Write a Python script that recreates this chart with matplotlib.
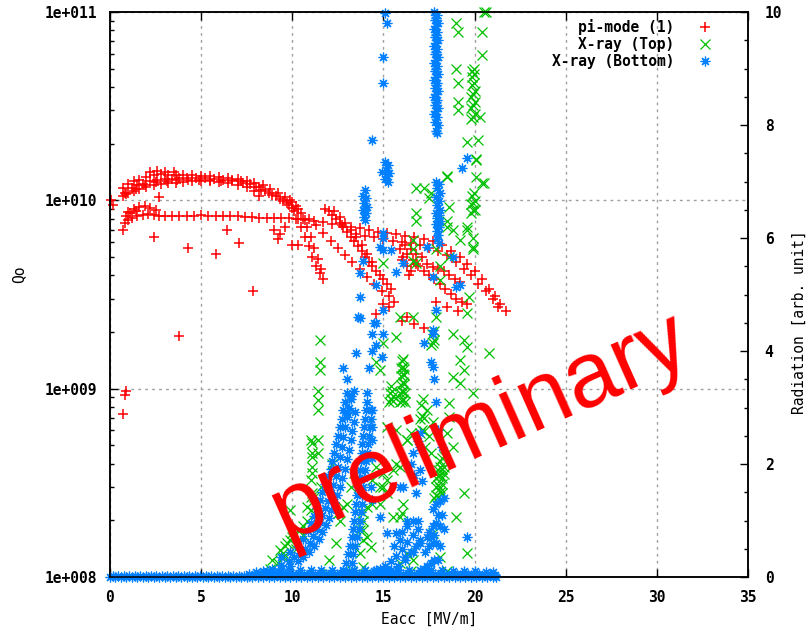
import matplotlib
matplotlib.use("Agg")
import numpy as np
import matplotlib.pyplot as plt
from matplotlib.lines import Line2D
from matplotlib.ticker import FixedLocator, FuncFormatter, MultipleLocator, NullFormatter

# ---------------- data ----------------
# pi-mode (1): Eacc [MV/m] and Qo (in units of 1e10)
red_upper_x = [0.7, 1.0, 1.3, 1.6, 2.0, 2.4, 2.8, 3.2, 3.6, 4.0, 4.5, 5.0, 5.5, 6.0, 6.5, 7.0, 7.5, 7.9, 8.2,
               0.7, 1.0, 1.3, 1.6, 2.0, 2.4, 2.8, 3.2, 3.6, 4.0, 4.5, 5.0, 5.5, 6.0, 6.5, 7.0, 7.5, 7.9, 8.2,
               0.8, 1.2, 1.5, 1.8, 2.2, 2.6, 3.0, 3.4, 3.8, 4.2, 4.7, 5.2, 5.7, 6.2, 6.7, 7.2, 7.7, 8.0,
               0.9, 1.4, 1.9, 2.5, 3.1, 3.7, 4.3, 4.9, 5.5, 6.1, 6.7, 7.3,
               2.2, 2.6, 3.0, 3.5]
red_upper_y = [1.16, 1.22, 1.26, 1.29, 1.33, 1.36, 1.38, 1.37, 1.36, 1.37, 1.36, 1.35, 1.35, 1.33, 1.32, 1.30, 1.27, 1.24, 1.17,
               1.05, 1.09, 1.12, 1.15, 1.18, 1.20, 1.22, 1.23, 1.24, 1.25, 1.26, 1.26, 1.26, 1.25, 1.24, 1.21, 1.18, 1.12, 1.06,
               1.10, 1.16, 1.20, 1.22, 1.26, 1.28, 1.30, 1.30, 1.31, 1.31, 1.31, 1.31, 1.30, 1.29, 1.28, 1.26, 1.22, 1.17,
               1.08, 1.15, 1.21, 1.25, 1.27, 1.28, 1.28, 1.29, 1.28, 1.27, 1.26, 1.24,
               1.42, 1.43, 1.42, 1.41]
red_lower_x = [0.8, 1.0, 1.2, 1.5, 1.8, 2.1, 2.4, 2.7, 3.0, 3.4, 3.8, 4.2, 4.6, 5.0, 5.4, 5.8, 6.2, 6.6, 7.0,
               7.4, 7.8, 8.2, 8.6, 9.0, 9.4, 9.8, 1.0, 1.3, 1.6, 1.9, 2.2, 2.5, 0.9, 1.1, 1.4]
red_lower_y = [0.76, 0.79, 0.81, 0.83, 0.84, 0.85, 0.84, 0.83, 0.83, 0.83, 0.83, 0.83, 0.83, 0.84, 0.83, 0.83, 0.83,
               0.83, 0.83, 0.82, 0.82, 0.81, 0.81, 0.81, 0.81, 0.81, 0.87, 0.90, 0.92, 0.93, 0.91, 0.89, 0.83, 0.86, 0.88]
red_branch_a_x = [8.3, 8.5, 8.7, 8.9, 9.1, 9.3, 9.5, 9.7, 9.8, 10.0, 10.1, 10.3, 10.5, 10.7, 10.9, 11.1, 11.3, 11.5, 11.7,
                  8.4, 8.8, 9.2, 9.6, 10.0, 10.3, 10.6, 10.8, 11.0, 11.2, 11.4, 11.6]
red_branch_a_y = [1.14, 1.12, 1.09, 1.07, 1.05, 1.02, 0.99, 0.97, 0.95, 0.91, 0.88, 0.80, 0.72, 0.64, 0.57, 0.50, 0.45, 0.41, 0.38,
                  1.20, 1.15, 1.10, 1.04, 0.98, 0.90, 0.80, 0.72, 0.64, 0.56, 0.49, 0.43]
red_branch_b_x = [9.9, 10.2, 10.5, 10.9, 11.3, 11.7, 12.1, 12.5, 12.9, 13.3, 13.7, 14.1, 14.5, 14.9, 15.3, 15.6]
red_branch_b_y = [1.00, 0.93, 0.86, 0.80, 0.74, 0.67, 0.61, 0.56, 0.51, 0.47, 0.43, 0.39, 0.36, 0.33, 0.31, 0.29]
red_branch_c_x = [11.8, 12.0, 12.2, 12.4, 12.6, 12.8, 13.0, 13.2, 13.4, 13.6, 13.8, 14.0, 14.2, 14.4, 14.6, 14.8, 15.0, 15.2, 15.4,
                  12.3, 12.6, 12.9, 13.2, 13.5, 13.8, 14.1, 14.4]
red_branch_c_y = [0.90, 0.88, 0.84, 0.80, 0.76, 0.72, 0.68, 0.64, 0.61, 0.57, 0.54, 0.50, 0.47, 0.45, 0.42, 0.40, 0.38, 0.36, 0.34,
                  0.88, 0.82, 0.76, 0.70, 0.64, 0.58, 0.52, 0.47]
red_branch_d_x = [10.2, 10.7, 11.2, 11.7, 12.2, 12.7, 13.2, 13.7, 14.2, 14.7, 15.2, 15.7, 16.2, 16.7, 17.2, 17.7, 18.2,
                  18.7, 19.2, 19.6, 20.0, 20.4, 20.8, 21.1, 21.4, 21.7,
                  13.5, 14.0, 14.5, 15.0, 15.5, 16.0, 16.5, 17.0, 17.5, 18.0, 18.5, 19.0, 19.4, 19.8, 20.2, 20.6, 21.0, 21.3]
red_branch_d_y = [0.80, 0.79, 0.78, 0.77, 0.75, 0.74, 0.72, 0.71, 0.70, 0.68, 0.67, 0.66, 0.65, 0.64, 0.62, 0.61, 0.58,
                  0.54, 0.50, 0.46, 0.42, 0.38, 0.34, 0.31, 0.28, 0.26,
                  0.66, 0.65, 0.64, 0.62, 0.61, 0.60, 0.59, 0.58, 0.56, 0.54, 0.51, 0.47, 0.43, 0.40, 0.36, 0.33, 0.30, 0.27]
red_branch_e_x = [16.3, 16.6, 16.9, 17.2, 17.5, 17.8, 18.1, 18.4, 18.7, 19.0, 19.3, 19.6,
                  15.9, 16.1, 16.3, 16.5, 16.2, 16.5, 16.8, 17.1, 17.4, 17.7, 18.0, 18.3, 18.6, 18.9, 19.2, 16.0, 16.4, 16.8]
red_branch_e_y = [0.52, 0.48, 0.45, 0.42, 0.40, 0.38, 0.36, 0.34, 0.32, 0.30, 0.29, 0.28,
                  0.55, 0.50, 0.45, 0.42, 0.58, 0.55, 0.52, 0.50, 0.46, 0.44, 0.43, 0.42, 0.40, 0.38, 0.37, 0.48, 0.40, 0.46]
red_scatter_x = [0.05, 0.15, 0.7, 2.4, 2.7, 3.8, 4.3, 5.8, 6.4, 7.1, 7.85, 9.2, 10.3, 0.85, 0.9, 0.72,
                 9.0, 9.3, 9.6, 10.0, 14.6, 15.3, 16.3, 16.7, 17.2, 17.9, 18.5, 19.1, 15.0, 16.0]
red_scatter_y = [1.00, 0.95, 0.695, 0.64, 1.04, 0.19, 0.56, 0.52, 0.70, 0.59, 0.33, 0.62, 0.58, 0.093, 0.097, 0.073,
                 0.70, 0.66, 0.72, 0.58, 0.25, 0.27, 0.24, 0.22, 0.21, 0.29, 0.27, 0.26, 0.28, 0.23]

# X-ray (Top): Eacc and radiation [arb. unit]
green_top_x = [20.5, 19.0, 19.1, 20.4, 20.4, 19.0, 19.1, 19.1, 19.1, 20.3, 19.6, 20.2, 20.1, 20.1, 20.5, 18.5,
               16.8, 17.2, 17.5, 17.6, 18.5, 20.1, 20.4, 16.8, 16.8, 18.6, 18.5, 18.5, 18.8, 19.2, 19.6, 19.9,
               19.9, 16.6, 16.6, 16.6, 17.9, 18.1, 18.1, 18.6, 19.7, 19.6, 15.0, 15.9, 16.6, 17.9, 16.8, 19.9, 19.6, 20.6]
green_top_y = [10.0, 9.8, 9.65, 9.65, 9.24, 9.0, 8.75, 8.4, 8.27, 8.15, 7.7, 7.73, 7.38, 7.08, 6.97, 7.08,
               6.88, 6.88, 6.7, 6.8, 7.1, 7.4, 6.98, 6.44, 6.3, 6.55, 6.2, 6.3, 6.14, 5.96, 6.2, 6.0,
               5.8, 5.96, 5.8, 5.6, 5.8, 5.5, 5.26, 5.66, 4.96, 4.67, 5.56, 4.6, 4.6, 4.6, 5.56, 5.84, 6.14, 10.0]
green_mid_x = [11.5, 11.5, 11.5, 11.4, 11.4, 11.4, 11.1, 11.1, 11.0, 11.0, 10.0, 9.9, 9.5, 9.2,
               10.0, 10.4, 10.8, 11.1, 11.1, 11.4, 11.4, 9.9, 9.5, 8.8, 10.6, 10.3,
               12.8, 12.6, 13.9, 14.1, 14.4, 14.8, 15.0, 15.2, 15.5, 15.9, 16.0, 16.3, 13.7, 13.9, 15.9, 16.3, 16.6,
               14.6, 14.8, 15.0, 15.7, 15.5, 15.2, 15.7, 14.6, 14.4, 13.9, 13.9, 14.3,
               18.8, 19.4, 19.6, 20.8, 19.2, 19.4, 18.8, 19.2, 19.9, 18.6, 18.6, 18.5, 18.8, 18.3, 19.4, 19.0, 19.6, 18.1, 17.7,
               11.0, 11.1, 11.1, 11.0, 11.2, 10.8, 10.3, 9.7, 9.3, 8.9, 12.5, 13.0, 13.2, 13.4, 14.1, 14.8, 15.0,
               15.2, 15.5, 15.7, 16.3, 16.5, 15.9, 16.1, 13.7, 13.9,
               12.0, 15.0, 16.5, 17.5, 18.5, 13.3, 17.3, 17.5, 17.7, 17.4, 17.6,
               9.6, 10.2, 10.6, 11.2, 11.6, 12.2, 12.4, 12.0]
green_mid_y = [4.2, 3.8, 3.66, 3.3, 3.13, 2.96, 2.37, 2.12, 1.42, 1.19, 0.78, 0.65, 0.42, 0.25,
               0.71, 0.83, 1.0, 1.49, 1.84, 2.2, 2.42, 1.19, 0.35, 0.15, 0.9, 0.6,
               1.24, 1.0, 1.0, 0.71, 1.3, 1.6, 1.84, 1.49, 1.06, 1.95, 1.13, 2.42, 0.42, 0.18, 0.25, 0.42, 0.3,
               3.8, 3.66, 4.14, 4.25, 3.2, 2.65, 2.6, 1.95, 1.72, 1.13, 0.83, 0.53,
               4.3, 4.2, 4.07, 3.96, 3.84, 3.66, 3.54, 3.43, 3.26, 3.08, 2.83, 2.55, 2.3, 1.95, 1.49, 1.06, 0.42, 0.35, 0.78,
               2.42, 2.19, 1.95, 1.72, 1.42, 1.24, 0.83, 0.6, 0.48, 0.3, 1.13, 1.3, 1.6, 1.84, 1.24, 1.3, 1.6,
               1.72, 1.9, 2.0, 2.42, 2.55, 1.06, 1.3, 0.83, 0.65,
               0.05, 0.05, 0.1, 0.08, 0.1, 0.1, 2.3, 2.5, 2.75, 2.95, 2.2,
               0.55, 0.5, 0.75, 0.9, 1.6, 2.0, 0.6, 0.3]
green_dense_x = [19.8, 19.9, 20.0, 19.8, 19.9, 20.0, 19.8, 19.9, 20.0, 19.85, 19.95, 19.85, 19.95, 19.85, 19.95,
                 19.8, 19.9, 20.0, 19.8, 19.9, 20.0, 19.85, 19.95,
                 15.9, 16.0, 16.1, 16.2, 15.9, 16.0, 16.1, 16.2, 15.95, 16.05, 16.15, 15.95, 16.05, 16.15,
                 15.95, 16.05, 16.15, 16.0, 16.1,
                 17.8, 17.9, 18.0, 18.1, 18.2, 17.9, 18.0, 18.1, 18.2, 17.9, 18.0, 18.1, 18.2, 18.3, 18.0,
                 18.1, 18.2, 18.1, 18.2, 18.3,
                 15.3, 15.4, 15.5, 15.35, 15.45, 15.4,
                 17.0, 17.1, 17.2, 17.0, 17.1, 17.2, 17.05, 17.15,
                 17.6, 17.7, 17.8, 17.65, 17.75]
green_dense_y = [8.1, 8.15, 8.2, 8.3, 8.35, 8.4, 8.5, 8.55, 8.6, 8.7, 8.75, 8.85, 8.9, 8.95, 9.0,
                 6.45, 6.5, 6.5, 6.6, 6.62, 6.65, 6.75, 6.8,
                 3.1, 3.12, 3.15, 3.1, 3.25, 3.3, 3.28, 3.25, 3.4, 3.45, 3.42, 3.55, 3.6, 3.57,
                 3.7, 3.72, 3.68, 3.82, 3.85,
                 1.4, 1.45, 1.42, 1.5, 1.48, 1.6, 1.62, 1.58, 1.65, 1.75, 1.78, 1.8, 1.76, 1.82, 1.9,
                 1.95, 1.92, 2.05, 2.1, 2.15,
                 3.1, 3.15, 3.12, 3.25, 3.3, 3.38,
                 2.55, 2.6, 2.58, 2.8, 2.85, 2.82, 3.05, 3.15,
                 4.1, 4.15, 4.2, 4.3, 4.35]

# X-ray (Bottom): Eacc and radiation [arb. unit]
blue_base_x = [0.0, 0.3, 0.6, 0.9, 1.2, 1.5, 1.8, 2.1, 2.4, 2.7, 3.0, 3.3, 3.6, 3.9, 4.2, 4.5, 4.8, 5.1, 5.4, 5.7,
               6.0, 6.3, 6.6, 6.9, 7.2, 7.5, 7.8, 8.1, 8.4, 8.7, 9.0, 9.3, 9.6, 9.9, 10.2, 10.5, 10.8, 11.1, 11.4,
               11.7, 12.0, 12.3, 12.6, 12.9, 13.2, 13.5, 13.8, 14.1, 14.4, 14.7, 15.0, 15.3, 15.6, 15.9, 16.2, 16.5,
               16.8, 17.1, 17.4, 17.7, 18.0, 18.3, 18.6, 18.9, 19.2, 19.5, 19.8, 20.1, 20.4, 20.7, 21.0, 21.2,
               0.15, 0.45, 0.75, 1.05, 1.35, 1.65, 1.95, 2.25, 2.55, 2.85, 3.15, 3.45, 3.75, 4.05, 4.35, 4.65, 4.95,
               5.25, 5.55, 5.85, 6.15, 6.45, 6.75, 7.05, 7.35, 7.65, 7.95, 8.25, 8.55, 8.85, 9.15, 9.45, 9.75, 10.05,
               10.35, 10.65, 10.95, 11.25, 11.55, 11.85, 12.15, 12.45, 12.75, 13.05, 13.35, 13.65, 13.95, 14.25,
               14.55, 14.85, 15.15, 15.45, 15.75, 16.05, 16.35, 16.65, 16.95, 17.25, 17.55, 17.85, 18.15, 18.45,
               18.75, 19.05, 19.35, 19.65, 19.95, 20.25, 20.55, 20.85, 21.1,
               7.6, 8.0, 8.6, 9.2, 9.8, 10.4, 11.0, 11.6, 12.2, 12.8, 13.4, 14.0, 14.6, 15.2, 15.8, 16.4, 17.0, 17.6,
               18.2, 18.8, 19.4, 20.0, 20.6, 21.0]
blue_base_y = [0, 0, 0, 0, 0, 0, 0, 0, 0, 0, 0, 0, 0, 0, 0, 0, 0, 0, 0, 0,
               0, 0, 0, 0, 0, 0, 0, 0, 0, 0, 0, 0, 0, 0, 0, 0, 0, 0, 0,
               0, 0, 0, 0, 0, 0, 0, 0, 0, 0, 0, 0, 0, 0, 0, 0, 0,
               0, 0, 0, 0, 0, 0, 0, 0, 0, 0, 0, 0, 0, 0, 0, 0,
               0.02, 0.02, 0.02, 0.02, 0.02, 0.02, 0.02, 0.02, 0.02, 0.02, 0.02, 0.02, 0.02, 0.02, 0.02, 0.02, 0.02,
               0.02, 0.02, 0.02, 0.02, 0.02, 0.02, 0.02, 0.02, 0.02, 0.03, 0.04, 0.04, 0.05, 0.05, 0.05, 0.05, 0.05,
               0.05, 0.05, 0.05, 0.05, 0.05, 0.05, 0.05, 0.05, 0.05, 0.05, 0.05, 0.05, 0.05, 0.05,
               0.05, 0.05, 0.05, 0.05, 0.05, 0.05, 0.05, 0.05, 0.05, 0.05, 0.05, 0.05, 0.05, 0.05,
               0.05, 0.05, 0.05, 0.05, 0.05, 0.05, 0.04, 0.04, 0.03,
               0.06, 0.08, 0.1, 0.1, 0.12, 0.12, 0.12, 0.12, 0.12, 0.12, 0.12, 0.12, 0.12, 0.12, 0.12, 0.12, 0.12, 0.12,
               0.12, 0.1, 0.1, 0.1, 0.08, 0.08]
# left-hand rising band (three rows)
blue_band1_x = [8.4, 8.9, 9.4, 9.8, 10.1, 10.4, 10.7, 10.95, 11.15, 11.35, 11.5, 11.65, 11.8, 11.95, 12.1, 12.25,
                12.4, 12.5, 12.6, 12.7, 12.8, 12.9, 13.0, 13.1, 13.2,
                8.9, 9.4, 9.9, 10.3, 10.6, 10.9, 11.2, 11.45, 11.65, 11.85, 12.0, 12.15, 12.3, 12.45, 12.6, 12.75,
                12.9, 13.0, 13.1, 13.2, 13.3, 13.4, 13.45,
                9.4, 9.9, 10.3, 10.6, 10.85, 11.05, 11.2, 11.35, 11.5, 11.65, 11.8, 11.95, 12.1, 12.2, 12.3,
                12.4, 12.5, 12.6, 12.7, 12.8, 12.9, 13.0]
blue_band1_y = [0.10, 0.15, 0.22, 0.28, 0.35, 0.42, 0.50, 0.60, 0.72, 0.85, 0.98, 1.10, 1.22, 1.35, 1.48, 1.62,
                1.78, 1.95, 2.12, 2.30, 2.48, 2.66, 2.84, 3.00, 3.15,
                0.08, 0.14, 0.20, 0.28, 0.36, 0.45, 0.55, 0.68, 0.80, 0.92, 1.05, 1.18, 1.32, 1.46, 1.60, 1.75,
                1.92, 2.08, 2.25, 2.42, 2.58, 2.75, 2.92,
                0.35, 0.45, 0.55, 0.68, 0.82, 0.95, 1.08, 1.22, 1.36, 1.50, 1.64, 1.78, 1.92, 2.05, 2.2,
                2.35, 2.5, 2.65, 2.8, 2.95, 3.1, 3.25]
# right-hand steep band (two rows)
blue_band2_x = [12.8, 12.95, 13.05, 13.15, 13.25, 13.35, 13.4, 13.45, 13.5, 13.55, 13.6, 13.65, 13.7, 13.75,
                13.8, 13.85, 13.9, 13.95, 14.0, 14.05, 14.1, 14.1,
                13.1, 13.25, 13.35, 13.45, 13.55, 13.65, 13.7, 13.75, 13.8, 13.85, 13.9, 13.95, 14.0, 14.05,
                14.1, 14.15, 14.2, 14.25, 14.3, 14.3]
blue_band2_y = [0.10, 0.25, 0.40, 0.55, 0.70, 0.85, 1.00, 1.15, 1.30, 1.45, 1.60, 1.75, 1.90, 2.05,
                2.20, 2.35, 2.50, 2.65, 2.80, 2.95, 3.10, 3.25,
                0.10, 0.25, 0.40, 0.55, 0.70, 0.85, 1.00, 1.15, 1.30, 1.45, 1.60, 1.75, 1.90, 2.05,
                2.20, 2.35, 2.50, 2.65, 2.80, 2.95]
blue_rise_x = [14.5, 14.8, 15.1, 15.4, 15.7, 16.0, 16.3, 16.6, 16.9, 15.0, 15.4, 15.8, 16.2, 16.6, 17.0,
               16.0, 16.3, 16.6, 16.9, 16.2, 16.5, 16.8, 15.6, 15.9,
               17.2, 17.4, 17.6, 17.8, 18.0, 17.3, 17.5, 17.7, 17.9, 18.1, 17.5, 17.7, 17.9, 18.1, 18.3,
               17.7, 17.9, 18.1, 18.3, 17.4, 17.6, 17.8, 18.0, 18.2]
blue_rise_y = [0.1, 0.15, 0.2, 0.28, 0.38, 0.5, 0.62, 0.75, 0.85, 0.08, 0.12, 0.2, 0.3, 0.45, 0.6,
               0.8, 0.9, 1.0, 1.0, 0.35, 0.45, 0.55, 0.55, 0.65,
               0.15, 0.2, 0.25, 0.3, 0.3, 0.45, 0.55, 0.6, 0.6, 0.55, 0.8, 0.9, 0.95, 0.9, 0.85,
               1.2, 1.3, 1.35, 1.4, 0.7, 0.7, 0.75, 1.1, 1.1]
blue_column_x = [17.8, 17.95, 17.85, 18.0, 17.8, 17.95, 17.85, 18.0, 17.8, 17.95, 17.85, 18.0, 17.8, 17.95, 17.85,
                 18.0, 17.8, 17.95, 17.85, 18.0, 17.8, 17.95, 17.85, 18.0, 17.8, 17.95, 17.85, 18.0, 17.9, 17.95,
                 17.9, 17.9, 17.9, 17.9, 17.9, 17.9, 17.9, 17.9, 17.9, 17.9, 17.9, 17.9,
                 17.9, 18.05, 17.95, 18.1, 17.9, 18.05, 17.95, 18.1, 17.9, 18.05, 17.95, 18.1, 17.9, 18.05, 17.95,
                 18.0, 17.95, 18.05,
                 15.1, 15.25, 15.15, 15.3, 15.1, 15.25, 15.2,
                 13.9, 14.05, 13.95, 14.1, 13.9, 14.05, 13.95, 14.0, 14.0]
blue_column_y = [10.0, 9.95, 9.85, 9.8, 9.7, 9.65, 9.55, 9.5, 9.4, 9.35, 9.25, 9.2, 9.1, 9.05, 8.95,
                 8.9, 8.8, 8.75, 8.65, 8.6, 8.5, 8.45, 8.35, 8.3, 8.2, 8.15, 8.05, 8.0, 7.9, 7.85,
                 9.9, 9.75, 9.6, 9.45, 9.3, 9.15, 9.0, 8.85, 8.7, 8.55, 8.4, 8.25,
                 7.0, 6.95, 6.88, 6.8, 6.72, 6.65, 6.58, 6.5, 6.45, 6.4, 6.35, 6.3, 6.25, 6.2, 6.12,
                 6.05, 5.98, 5.92,
                 7.35, 7.3, 7.2, 7.15, 7.05, 7.0, 7.1,
                 6.75, 6.7, 6.62, 6.55, 6.5, 6.45, 6.38, 6.32, 6.85]
blue_scatter_x = [15.1, 15.2, 15.0, 15.0, 14.4, 14.9, 19.6, 19.3, 15.0, 14.8, 15.4, 13.9, 13.7, 13.7, 13.7,
                  14.6, 15.7, 16.1, 15.0, 19.2, 18.8, 17.7, 17.4, 17.9, 15.0, 15.0, 14.5, 19.0, 13.6,
                  13.5, 14.4, 14.4, 14.6, 17.2, 17.7, 17.7, 14.4, 14.4, 14.4, 14.4, 14.3, 14.4, 14.8,
                  16.5, 16.7, 16.6, 16.9, 17.0, 17.1, 15.9, 16.8, 15.7, 15.2, 16.3, 17.0, 19.6, 17.6, 17.7,
                  16.1, 17.0, 17.0, 13.0, 13.2, 13.4, 13.0, 12.8, 14.2, 14.6, 15.0, 14.9, 17.8, 17.9, 18.0, 18.2]
blue_scatter_y = [9.98, 9.8, 9.2, 8.74, 7.73, 7.17, 7.42, 7.24, 6.0, 5.84, 5.79, 5.6, 5.38, 4.96, 4.58,
                  5.17, 5.4, 5.56, 4.73, 5.17, 5.66, 5.31, 5.84, 4.73, 6.09, 5.79, 4.5, 5.13, 4.6,
                  3.96, 4.0, 4.3, 4.5, 4.14, 4.3, 3.72, 2.96, 2.65, 2.42, 2.1, 1.6, 1.36, 1.06,
                  2.0, 1.8, 2.2, 2.4, 1.9, 1.7, 1.6, 1.49, 0.78, 0.78, 1.0, 0.65, 0.71, 3.8, 4.37,
                  1.6, 2.55, 2.3, 2.9, 3.2, 3.3, 3.5, 3.7, 3.7, 4.1, 4.3, 3.9, 3.5, 3.1, 2.6, 2.3]

labels = ["pi-mode (1)", "X-ray (Top)", "X-ray (Bottom)"]
QO_UNIT = 1e10

# ---------------- figure ----------------
plt.rcParams['font.family'] = ['DejaVu Sans Mono']
plt.rcParams['font.weight'] = 'bold'

RED, GREEN, BLUE = '#ff0000', '#00c000', '#0080ff'
red_style = dict(ls='none', marker='+', ms=7.5, mew=1.1, color=RED, clip_on=False)
green_style = dict(ls='none', marker='x', ms=6.5, mew=0.9, color=GREEN, clip_on=False)
blue_style = dict(ls='none', marker=(8, 2, 0), ms=7, mew=0.9, color=BLUE, clip_on=False)

fig = plt.figure(figsize=(8.1, 6.29), dpi=100)
ax = fig.add_axes([110 / 810, 1 - 577 / 629, 638 / 810, 565 / 629])
ax2 = ax.twinx()

red_x = (red_upper_x + red_lower_x + red_branch_a_x + red_branch_b_x + red_branch_c_x
         + red_branch_d_x + red_branch_e_x + red_scatter_x)
red_y = (red_upper_y + red_lower_y + red_branch_a_y + red_branch_b_y + red_branch_c_y
         + red_branch_d_y + red_branch_e_y + red_scatter_y)
ax.plot(red_x, np.array(red_y) * QO_UNIT, **red_style)

ax2.plot(green_top_x + green_mid_x + green_dense_x, green_top_y + green_mid_y + green_dense_y, **green_style)
ax2.plot(blue_base_x + blue_band1_x + blue_band2_x + blue_rise_x + blue_column_x + blue_scatter_x,
         blue_base_y + blue_band1_y + blue_band2_y + blue_rise_y + blue_column_y + blue_scatter_y, **blue_style)

ax.set_xlim(0, 35)
ax.set_yscale('log')
ax.set_ylim(1e8, 1e11)
ax2.set_ylim(0, 10)

ax.xaxis.set_major_locator(MultipleLocator(5))
ax.yaxis.set_major_locator(FixedLocator([1e8, 1e9, 1e10, 1e11]))
ax.yaxis.set_minor_locator(FixedLocator([m * 10.0 ** e for e in (8, 9, 10) for m in range(2, 10)]))
ax.yaxis.set_minor_formatter(NullFormatter())
ax.yaxis.set_major_formatter(FuncFormatter(lambda v, p: "1e+%03d" % int(round(np.log10(v)))))
ax2.yaxis.set_major_locator(MultipleLocator(2))
ax2.yaxis.set_minor_locator(MultipleLocator(0.5))

ax.grid(True, which='major', color='#a0a0a0', linestyle=(0, (2, 3)), linewidth=1.0)
ax.set_axisbelow(True)

fs = 10.5
ax.tick_params(axis='x', which='major', direction='in', length=6, width=1, top=True, pad=9, labelsize=fs)
ax.tick_params(axis='y', which='major', direction='in', length=6, width=1, right=False, pad=9, labelsize=fs)
ax.tick_params(axis='y', which='minor', direction='in', length=3, width=1, right=False)
ax2.tick_params(axis='y', which='major', direction='in', length=6, width=1, pad=12, labelsize=fs)
ax2.tick_params(axis='y', which='minor', direction='in', length=3, width=1)
for a in (ax, ax2):
    for s in a.spines.values():
        s.set_linewidth(1.1)

ax.set_xlabel("Eacc [MV/m]", fontsize=fs)
ax.xaxis.set_label_coords(0.5, -0.062)
ax.set_ylabel("Qo", fontsize=fs)
ax.yaxis.set_label_coords(-0.132, 0.535)
ax2.set_ylabel("Radiation [arb. unit]", fontsize=fs)
ax2.yaxis.set_label_coords(1.068, 0.451)

handles = [Line2D([], [], **red_style), Line2D([], [], **green_style), Line2D([], [], **blue_style)]
ax2.legend(handles, labels, loc='upper right', bbox_to_anchor=(731 / 810, 1 - 7 / 629),
           bbox_transform=fig.transFigure, frameon=False, markerfirst=False, fontsize=fs,
           handlelength=2.0, handletextpad=1.1, labelspacing=0.16, borderpad=0.3)

fig.text(480 / 810, 1 - 428 / 629, "preliminary", fontsize=66, color=RED, rotation=24,
         ha='center', va='center', rotation_mode='anchor', family='Liberation Sans', weight='normal')

fig.savefig("out.png", dpi=100)
